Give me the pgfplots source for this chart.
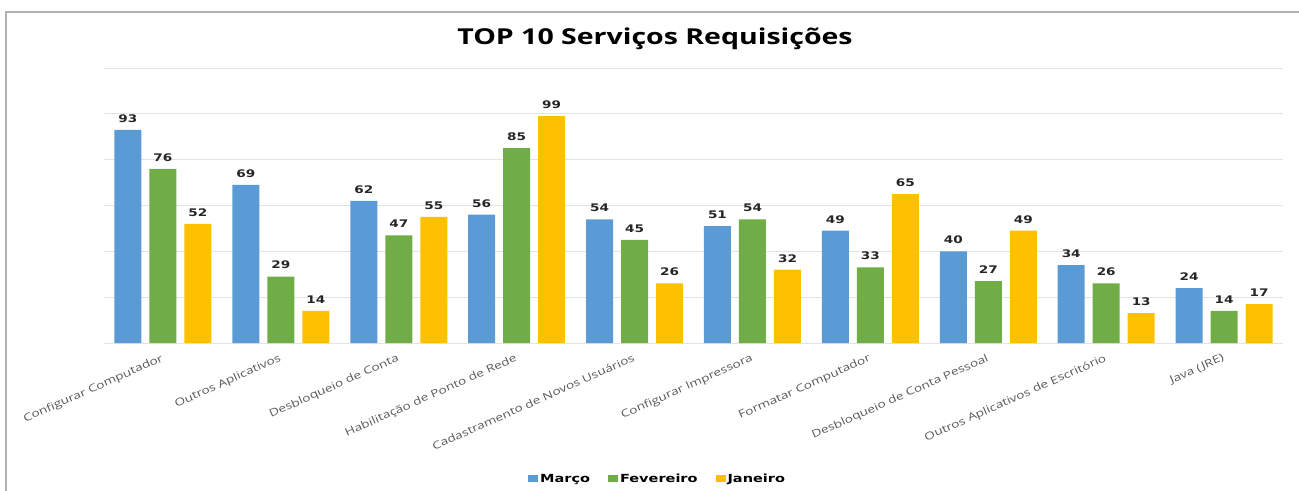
\documentclass[border=0pt]{standalone}
\usepackage{fontspec}
\setmainfont{Open Sans}[FakeStretch=1.3]
\newfontfamily\dejavu{DejaVu Sans}[FakeStretch=1.3]
\usepackage{pgfplots}
\pgfplotsset{compat=1.18}
\definecolor{cMar}{HTML}{5B9BD5}
\definecolor{cFev}{HTML}{70AD47}
\definecolor{cJan}{HTML}{FFC000}
\definecolor{tickgray}{HTML}{595959}
\definecolor{gridgray}{HTML}{E3E3E3}
\begin{document}
\begin{tikzpicture}[x=1bp,y=1bp]
\path[use as bounding box] (0,0) rectangle (1299,-491);
\draw[gray!60, line width=1.5bp] (6,-491) -- (6,-12) -- (1299,-12);
\node[font=\bfseries\fontsize{22}{26}\selectfont, text=black] at (655,-39) {TOP 10 Serviços Requisições};
\begin{axis}[
  at={(104bp,-343bp)}, anchor=south west,
  scale only axis, width=1179bp, height=275bp,
  ymin=0, ymax=120, xmin=-0.5, xmax=9.5,
  axis line style={draw=none},
  ytick={0,20,...,120}, yticklabels={},
  ymajorgrids, grid style={gridgray, line width=0.8bp},
  major tick length=0pt,
  xtick={0,...,9},
  xticklabels={Configurar Computador, Outros Aplicativos, Desbloqueio de Conta, Habilitação de Ponto de Rede, Cadastramento de Novos Usuários, Configurar Impressora, Formatar Computador, Desbloqueio de Conta Pessoal, Outros Aplicativos de Escritório, Java (JRE)},
  x tick label style={rotate=24, anchor=north east, font=\fontsize{10.5}{12}\selectfont, text=tickgray, xshift=-3bp, yshift=-5bp},
  ybar=8bp, bar width=27bp,
  clip=false,
  /pgf/number format/assume math mode=true,
  nodes near coords,
  every node near coord/.append style={font=\dejavu\bfseries\fontsize{10.5}{12}\selectfont, text=black!85, yshift=4bp},
  legend columns=3,
  legend style={draw=none, fill=none, at={(rel axis cs:0.4695,-0.4945)}, anchor=center,
    font=\dejavu\bfseries\fontsize{11.2}{13}\selectfont,
    /tikz/every even column/.append style={column sep=16bp}},
  legend image code/.code={\fill[#1] (0bp,-3.5bp) rectangle (10bp,3.5bp);},
]
\addplot[fill=cMar, draw=none] coordinates {(0,93) (1,69) (2,62) (3,56) (4,54) (5,51) (6,49) (7,40) (8,34) (9,24)};
\addplot[fill=cFev, draw=none] coordinates {(0,76) (1,29) (2,47) (3,85) (4,45) (5,54) (6,33) (7,27) (8,26) (9,14)};
\addplot[fill=cJan, draw=none] coordinates {(0,52) (1,14) (2,55) (3,99) (4,26) (5,32) (6,65) (7,49) (8,13) (9,17)};
\legend{Março, Fevereiro, Janeiro}
\end{axis}
\end{tikzpicture}
\end{document}
